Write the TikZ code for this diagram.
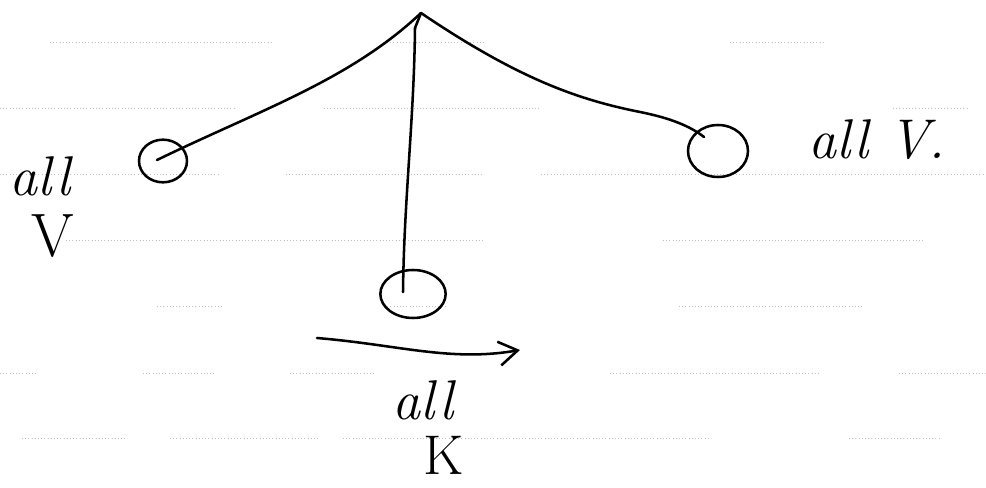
\documentclass[tikz,border=0pt]{standalone}
\usetikzlibrary{arrows.meta,shapes.geometric}
\begin{document}
\begin{tikzpicture}[x=0.75pt,y=-0.75pt,
  ink/.style={line width=1.9pt,line cap=round,line join=round,black},
  vtx/.style={draw,ellipse,line width=1.9pt,inner sep=0pt},
  hand/.style={inner sep=0pt,font=\fontsize{42}{42}\selectfont\itshape},
  rule/.style={gray!50,line width=0.4pt,dotted}]
\useasboundingbox (0,0) rectangle (986,488);
% notebook ruling
\foreach \y/\segs in {42/{50/274,387/484,730/824},
                      108/{0/236,324/541,893/969},
                      174/{0/220,286/484,541/986},
                      240/{66/484,663/925},
                      306/{157/223,384/447,679/862},
                      373/{0/38,143/214,290/374,610/821,899/986},
                      438/{22/126,170/318,343/711,849/940}}{
  \foreach \a/\b in \segs { \draw[rule] (\a,\y) -- (\b,\y); }
}
% tree
\coordinate (apex) at (421,13);
\node[vtx,minimum width=36pt,minimum height=32pt] (lc) at (163,161) {};
\node[vtx,minimum width=45pt,minimum height=39pt] (rc) at (718,151) {};
\node[vtx,minimum width=49pt,minimum height=36pt] (mc) at (413,294) {};
\coordinate (lend) at (157,160);
\coordinate (rend) at (704,137);
\coordinate (mend) at (403,292);
\draw[ink] (apex) .. controls (350,80) and (260,110) .. (lend);
\draw[ink] (apex) .. controls (520,80) and (580,100) .. (640,112) .. controls (670,118) and (690,126) .. (rend);
\draw[ink] (415,28) .. controls (414,120) and (404,200) .. (mend);
\draw[ink] (apex) -- (415,28);
% arrow
\coordinate (as) at (317,338);
\coordinate (ae) at (520,350);
\draw[ink,-{Straight Barb[length=14pt,width=18pt,line width=1.9pt]}] (as) .. controls (400,345) and (450,362) .. (ae);
% labels
\node[hand] (l1) at (40,176) {all};
\node[hand,font=\fontsize{46}{46}\selectfont] (l2) at (53,236) {V};
\node[hand,anchor=west] (r1) at (808,140) {all V.};
\node[hand] (b1) at (423,400) {all};
\node[hand,font=\fontsize{42}{42}\selectfont] (b2) at (444,455) {K};
\end{tikzpicture}
\end{document}
